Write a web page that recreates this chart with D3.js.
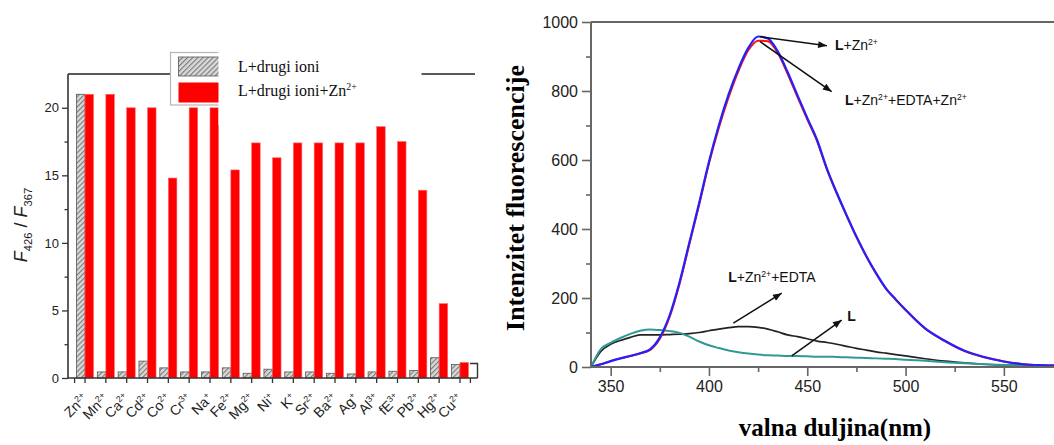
<!DOCTYPE html>
<html><head><meta charset="utf-8">
<script src="https://cdn.jsdelivr.net/npm/d3@7"></script>
<style>body{margin:0;background:#fff}svg{display:block}</style>
</head><body>
<svg id="chart" width="1054" height="445"></svg>
<script>
// ---------- data: left bar chart ----------
const ions = ["Zn","Mn","Ca","Cd","Co","Cr","Na","Fe","Mg","Ni","K","Sr","Ba","Ag","Al","fE","Pb","Hg","Cu"];
const ionCharges = ["2+","2+","2+","2+","2+","3+","+","2+","2+","+","+","2+","2+","+","3+","3+","2+","2+","2+"];
const ratioLigandIon = [21,0.45,0.45,1.25,0.75,0.45,0.45,0.75,0.35,0.65,0.45,0.45,0.35,0.3,0.45,0.5,0.55,1.5,1.0];
const ratioLigandIonZn = [21,21,20,20,14.8,20,20,15.4,17.4,16.3,17.4,17.4,17.4,17.4,18.6,17.5,13.9,5.5,1.15];
const yTicksLeft = [0,5,10,15,20];
const yMinorLeft = [2.5,7.5,12.5,17.5];

// ---------- data: right spectra ----------
const wavelength = [340,345,350,355,360,365,370,375,380,385,390,395,400,405,410,415,420,425,430,435,440,445,450,455,460,465,470,475,480,485,490,495,500,510,520,530,540,550,560,570,575,580];
const intLZn =        [0,8,17,25,32,40,51,86,150,245,360,475,595,700,790,865,925,958,952,915,855,788,722,658,575,505,440,378,322,272,228,196,166,112,76,47,29,16,8,5,4,3];
const intLZnEdtaZn =  [0,8,17,25,32,39,49,82,145,240,355,470,590,693,782,858,918,946,944,910,850,783,718,655,573,503,439,377,321,271,227,195,165,111,75,46,28,16,8,5,4,3];
const intLZnEdta =    [0,45,66,77,86,93,93,93,94,95,97,100,105,110,114,117,117,115,110,102,93,88,82,75,71,66,60,54,49,44,40,36,32,24,17,12,8,5,3,2,2,2];
const intL =          [0,52,70,84,96,105,109,107,104,99,88,74,63,55,48,43,39,36,34,33,32,32,31,30,30,29,28,27,26,25,24,23,21,18,14,11,8,6,5,4,4,4];
const xTicksRight = [350,400,450,500,550];
const xMinorRight = [375,425,475,525];
const yTicksRight = [0,200,400,600,800,1000];
const yMinorRight = [100,300,500,700,900];

const SANS = "'Liberation Sans', Arial, sans-serif";
const SERIF = "'Liberation Serif', 'Times New Roman', serif";

const svg = d3.select('#chart');
const defs = svg.append('defs');
const pat = defs.append('pattern').attr('id','hatch').attr('patternUnits','userSpaceOnUse')
  .attr('width',3.6).attr('height',3.6).attr('patternTransform','rotate(45)');
pat.append('rect').attr('width',3.6).attr('height',3.6).attr('fill','#d8d8d8');
pat.append('line').attr('x1',0.6).attr('y1',0).attr('x2',0.6).attr('y2',3.6).attr('stroke','#707070').attr('stroke-width',1);
defs.append('marker').attr('id','arrow').attr('viewBox','0 0 10 8').attr('refX',10).attr('refY',4)
  .attr('markerWidth',11).attr('markerHeight',7).attr('markerUnits','userSpaceOnUse').attr('orient','auto')
  .append('path').attr('d','M0,0L10,4L0,8Z').attr('fill','#111');
defs.append('clipPath').attr('id','plotR').append('rect').attr('x',592).attr('y',10).attr('width',470).attr('height',358);

// rich text helper
function rich(sel, segs, size){
  let up = false;
  segs.forEach(s=>{
    const t = sel.append('tspan').text(s.t);
    if (s.b) t.attr('font-weight','bold');
    if (s.sup){ t.attr('font-size', size*0.62).attr('dy', -size*0.38); up = true; }
    else if (s.sub){ t.attr('font-size', size*0.62).attr('dy', size*0.3); up = 'sub'; }
    else if (up === true){ t.attr('dy', size*0.38); up = false; }
    else if (up === 'sub'){ t.attr('dy', -size*0.3); up = false; }
    if (s.i) t.attr('font-style','italic');
  });
}

// ================= LEFT CHART =================
const gL = svg.append('g');
const xL = d3.scaleBand().domain(ions).range([74.6,470.4]);
const yL = d3.scaleLinear().domain([0,22.5]).range([378,74]);
const barW = xL.bandwidth()*0.41;
const cx = d => xL(d) + xL.bandwidth()/2;

gL.append('line').attr('x1',68).attr('x2',475).attr('y1',74).attr('y2',74).attr('stroke','#222').attr('stroke-width',1.4);

gL.append('g').selectAll('rect').data(ions).join('rect')
  .attr('x', d=>cx(d)-barW).attr('width', barW)
  .attr('y', (d,i)=>yL(ratioLigandIon[i])).attr('height',(d,i)=>yL(0)-yL(ratioLigandIon[i]))
  .attr('fill','url(#hatch)').attr('stroke','#555').attr('stroke-width',0.8);
gL.append('g').selectAll('rect').data(ions).join('rect')
  .attr('x', d=>cx(d)).attr('width', barW)
  .attr('y', (d,i)=>yL(ratioLigandIonZn[i])).attr('height',(d,i)=>yL(0)-yL(ratioLigandIonZn[i]))
  .attr('fill','#ff0000').attr('stroke','#ff6b6b').attr('stroke-width',0.6);

gL.append('line').attr('x1',68).attr('x2',68).attr('y1',74).attr('y2',378).attr('stroke','#333').attr('stroke-width',1.6);
gL.append('line').attr('x1',68).attr('x2',477.5).attr('y1',378).attr('y2',378).attr('stroke','#333').attr('stroke-width',1.6);
gL.append('path').attr('d','M470,363.5H477.5V378').attr('fill','none').attr('stroke','#333').attr('stroke-width',1.4);

const styleAxis = (g, col, w, fs) => {
  g.select('.domain').remove();
  g.selectAll('line').attr('stroke',col).attr('stroke-width',w);
  g.selectAll('text').attr('font-family',SANS).attr('font-size',fs).attr('fill','#222');
};
gL.append('g').attr('transform','translate(68,0)')
  .call(d3.axisLeft(yL).tickValues(yTicksLeft).tickSize(6).tickPadding(3))
  .call(g=>styleAxis(g,'#333',1.3,13));
gL.append('g').attr('transform','translate(68,0)')
  .call(d3.axisLeft(yL).tickValues(yMinorLeft).tickSize(3.5).tickFormat(''))
  .call(g=>styleAxis(g,'#333',1.3,13));

const gxL = gL.append('g').attr('transform','translate(0,378)')
  .call(d3.axisBottom(xL).tickSize(5).tickSizeOuter(0))
  .call(g=>styleAxis(g,'#333',1.3,14));
gxL.selectAll('.tick text').each(function(d){
  const i = ions.indexOf(d);
  const t = d3.select(this).text(null).attr('y',null).attr('dy',null)
    .attr('text-anchor','end').attr('transform','translate(0,18) rotate(-45)').attr('dy','0.35em');
  rich(t, [{t:ions[i]},{t:ionCharges[i],sup:true}], 14);
});
[74.6,470.4].forEach(v=>gL.append('line').attr('x1',v).attr('x2',v).attr('y1',378).attr('y2',383).attr('stroke','#333').attr('stroke-width',1.3));

const ytL = gL.append('text').attr('transform','translate(27,225) rotate(-90)').attr('text-anchor','middle')
  .attr('font-family',SANS).attr('font-size',18).attr('fill','#222');
rich(ytL, [{t:'F',i:true},{t:'426',sub:true},{t:' / '},{t:'F',i:true},{t:'367',sub:true}], 18);

// legend
gL.append('rect').attr('x',170.5).attr('y',52.5).attr('width',70).attr('height',52.5).attr('fill','#fff').attr('stroke','#b5b5b5').attr('stroke-width',1.2);
gL.append('rect').attr('x',178.5).attr('y',57).attr('width',50).attr('height',19).attr('fill','url(#hatch)').attr('stroke','#555').attr('stroke-width',0.8);
gL.append('rect').attr('x',178.5).attr('y',82.5).attr('width',50).attr('height',20).attr('fill','#ff0000');
gL.append('rect').attr('x',218.5).attr('y',36).attr('width',203).attr('height',89).attr('fill','#fff');
const lt1 = gL.append('text').attr('x',238).attr('y',72).attr('font-family',SERIF).attr('font-size',16).attr('fill','#111');
rich(lt1,[{t:'L+drugi ioni'}],16);
const lt2 = gL.append('text').attr('x',238).attr('y',96).attr('font-family',SERIF).attr('font-size',16).attr('fill','#111');
rich(lt2,[{t:'L+drugi ioni+Zn'},{t:'2+',sup:true}],16);

// ================= RIGHT CHART =================
const gR = svg.append('g');
const xR = d3.scaleLinear().domain([340,575]).range([591,1053]);
const yR = d3.scaleLinear().domain([0,1000]).range([367,22]);

const line = d3.line().x((d,i)=>xR(wavelength[i])).y(d=>yR(d)).curve(d3.curveMonotoneX);
const curves = gR.append('g').attr('clip-path','url(#plotR)');
curves.append('path').attr('d',line(intLZnEdta)).attr('fill','none').attr('stroke','#222').attr('stroke-width',1.7);
curves.append('path').attr('d',line(intL)).attr('fill','none').attr('stroke','#2f9a94').attr('stroke-width',2);
curves.append('path').attr('d',line(intLZnEdtaZn)).attr('fill','none').attr('stroke','#ff1010').attr('stroke-width',2);
curves.append('path').attr('d',line(intLZn)).attr('fill','none').attr('stroke','#2222ff').attr('stroke-width',2.2);

gR.append('line').attr('x1',591).attr('x2',1054).attr('y1',22).attr('y2',22).attr('stroke','#666').attr('stroke-width',2);
gR.append('line').attr('x1',591).attr('x2',591).attr('y1',22).attr('y2',367).attr('stroke','#666').attr('stroke-width',2);
gR.append('line').attr('x1',591).attr('x2',1054).attr('y1',367).attr('y2',367).attr('stroke','#666').attr('stroke-width',2);

gR.append('g').attr('transform','translate(591,0)')
  .call(d3.axisLeft(yR).tickValues(yTicksRight).tickSize(9).tickPadding(4).tickFormat(d3.format('d')))
  .call(g=>styleAxis(g,'#666',1.6,16));
gR.append('g').attr('transform','translate(591,0)')
  .call(d3.axisLeft(yR).tickValues(yMinorRight).tickSize(5).tickFormat(''))
  .call(g=>styleAxis(g,'#666',1.6,16));
gR.append('g').attr('transform','translate(0,367)')
  .call(d3.axisBottom(xR).tickValues(xTicksRight).tickSize(9).tickPadding(5).tickFormat(d3.format('d')))
  .call(g=>styleAxis(g,'#666',1.6,16));
gR.append('g').attr('transform','translate(0,367)')
  .call(d3.axisBottom(xR).tickValues(xMinorRight).tickSize(5).tickFormat(''))
  .call(g=>styleAxis(g,'#666',1.6,16));

gR.append('text').attr('transform','translate(524,198) rotate(-90)').attr('text-anchor','middle')
  .attr('font-family',SERIF).attr('font-weight','bold').attr('font-size',26).attr('fill','#000').text('Intenzitet fluorescencije');
gR.append('text').attr('x',835).attr('y',436).attr('text-anchor','middle')
  .attr('font-family',SERIF).attr('font-weight','bold').attr('font-size',25).attr('fill','#000').text('valna duljina(nm)');

// annotations (data coordinates)
const arrows = [
  {from:[426,957], to:[460,931]},
  {from:[426,943], to:[462.4,798]},
  {from:[412.4,127], to:[437,214]},
  {from:[442.1,32], to:[467.5,136]}
];
gR.append('g').selectAll('line').data(arrows).join('line')
  .attr('x1',d=>xR(d.from[0])).attr('y1',d=>yR(d.from[1]))
  .attr('x2',d=>xR(d.to[0])).attr('y2',d=>yR(d.to[1]))
  .attr('stroke','#111').attr('stroke-width',1.5).attr('marker-end','url(#arrow)');

const labels = [
  {at:[464.1,919], segs:[{t:'L',b:true},{t:'+Zn'},{t:'2+',sup:true}]},
  {at:[469.2,759], segs:[{t:'L',b:true},{t:'+Zn'},{t:'2+',sup:true},{t:'+EDTA+Zn'},{t:'2+',sup:true}]},
  {at:[409.8,246], segs:[{t:'L',b:true},{t:'+Zn'},{t:'2+',sup:true},{t:'+EDTA'}]},
  {at:[470.4,133], segs:[{t:'L',b:true}]}
];
labels.forEach(l=>{
  const t = gR.append('text').attr('x',xR(l.at[0])).attr('y',yR(l.at[1]))
    .attr('font-family',SANS).attr('font-size',14).attr('fill','#111');
  rich(t, l.segs, 14);
});
</script>
</body></html>
